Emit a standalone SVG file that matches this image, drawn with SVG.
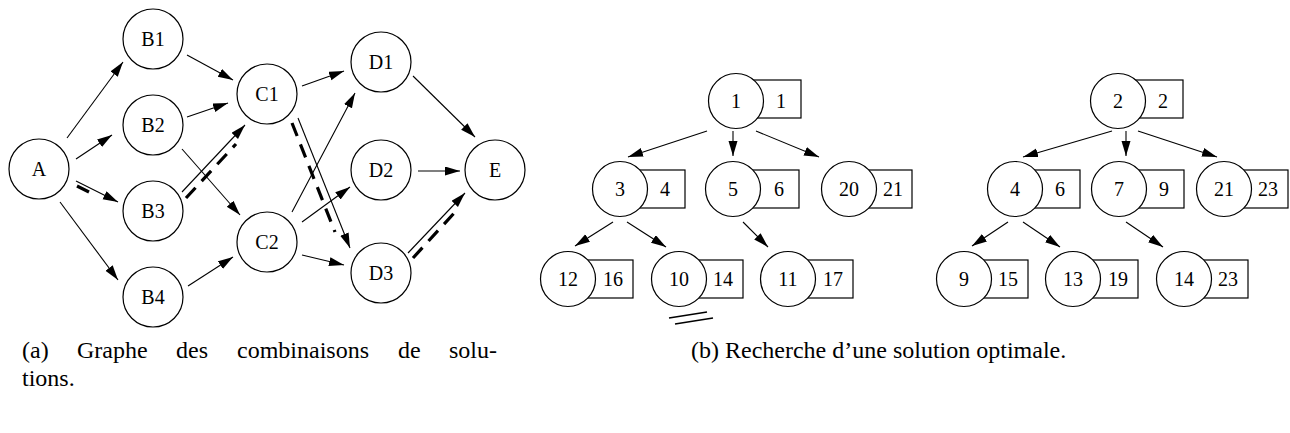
<svg xmlns="http://www.w3.org/2000/svg" width="1290" height="433" viewBox="0 0 1290 433">
<style>
  .n circle { fill: #fff; stroke: #000; stroke-width: 1.2; }
  .n rect { fill: #fff; stroke: #000; stroke-width: 1.2; }
  text { font-family: "Liberation Serif", "Times New Roman", serif; fill: #000; }
  .lbl { font-size: 20px; text-anchor: middle; }
  .cap { font-size: 24px; }
  .e { stroke: #000; stroke-width: 1.1; fill: none; marker-end: url(#ah); }
  .th { stroke: #000; stroke-width: 3.2; fill: none; stroke-dasharray: 14 9; }
  .pl { stroke: #000; stroke-width: 1.5; fill: none; }
</style>
<defs>
  <marker id="ah" markerUnits="userSpaceOnUse" markerWidth="16" markerHeight="10" refX="15" refY="4.5" orient="auto">
    <path d="M0,0 L15,4.5 L0,9 z" fill="#000"/>
  </marker>
</defs>
<rect width="1290" height="433" fill="#fff"/>

<g id="connectors">
  <!-- left graph -->
  <line class="e" x1="67" y1="138" x2="123" y2="62"/>
  <line class="e" x1="76" y1="159" x2="112" y2="135"/>
  <line class="e" x1="76" y1="181" x2="118" y2="202"/>
  <line class="e" x1="60" y1="202" x2="118" y2="280"/>
  <line class="e" x1="187" y1="55" x2="233" y2="80"/>
  <line class="e" x1="187" y1="117" x2="228" y2="103"/>
  <line class="e" x1="182" y1="149" x2="240" y2="215"/>
  <line class="e" x1="182" y1="192" x2="245" y2="125"/>
  <line class="e" x1="188" y1="286" x2="233" y2="257"/>
  <line class="e" x1="302" y1="86" x2="344" y2="71"/>
  <line class="e" x1="292" y1="212" x2="355" y2="93"/>
  <line class="e" x1="298" y1="118" x2="350" y2="248"/>
  <line class="e" x1="302" y1="222" x2="350" y2="187"/>
  <line class="e" x1="302" y1="255" x2="344" y2="265"/>
  <line class="e" x1="413" y1="76" x2="475" y2="137"/>
  <line class="e" x1="418" y1="171" x2="460" y2="171"/>
  <line class="e" x1="408" y1="253" x2="465" y2="193"/>
  <!-- thick dashed path -->
  <line class="th" x1="77" y1="186" x2="89" y2="192"/>
  <line class="th" x1="186" y1="198" x2="236" y2="144"/>
  <line class="th" x1="292" y1="123" x2="335" y2="232"/>
  <line class="th" x1="413" y1="258" x2="456" y2="211"/>
  <!-- tree 1 -->
  <line class="e" x1="707" y1="131" x2="628" y2="157"/>
  <line class="e" x1="733" y1="131" x2="733" y2="156"/>
  <line class="e" x1="756" y1="131" x2="819" y2="157"/>
  <line class="e" x1="613" y1="222" x2="575" y2="246"/>
  <line class="e" x1="627" y1="222" x2="666" y2="247"/>
  <line class="e" x1="743" y1="222" x2="768" y2="247"/>
  <!-- tree 2 -->
  <line class="e" x1="1112" y1="131" x2="1023" y2="157"/>
  <line class="e" x1="1126" y1="131" x2="1126" y2="156"/>
  <line class="e" x1="1138" y1="131" x2="1217" y2="157"/>
  <line class="e" x1="1008" y1="222" x2="972" y2="246"/>
  <line class="e" x1="1023" y1="222" x2="1060" y2="247"/>
  <line class="e" x1="1126" y1="222" x2="1163" y2="247"/>
  <!-- cut mark under 10 -->
  <line class="pl" x1="669" y1="318" x2="707" y2="312"/>
  <line class="pl" x1="675" y1="324" x2="713" y2="318"/>
</g>

<!-- left graph nodes -->
<g id="A" class="n"><circle cx="39" cy="169" r="30"/><text class="lbl" x="39" y="176">A</text></g>
<g id="B1" class="n"><circle cx="153" cy="39" r="30"/><text class="lbl" x="153" y="46">B1</text></g>
<g id="B2" class="n"><circle cx="153" cy="125" r="30"/><text class="lbl" x="153" y="132">B2</text></g>
<g id="B3" class="n"><circle cx="153" cy="211" r="30"/><text class="lbl" x="153" y="218">B3</text></g>
<g id="B4" class="n"><circle cx="153" cy="297" r="30"/><text class="lbl" x="153" y="304">B4</text></g>
<g id="C1" class="n"><circle cx="267" cy="94" r="30"/><text class="lbl" x="267" y="101">C1</text></g>
<g id="C2" class="n"><circle cx="267" cy="242" r="30"/><text class="lbl" x="267" y="249">C2</text></g>
<g id="D1" class="n"><circle cx="381" cy="62" r="30"/><text class="lbl" x="381" y="69">D1</text></g>
<g id="D2" class="n"><circle cx="381" cy="170" r="30"/><text class="lbl" x="381" y="177">D2</text></g>
<g id="D3" class="n"><circle cx="381" cy="273" r="30"/><text class="lbl" x="381" y="280">D3</text></g>
<g id="E" class="n"><circle cx="495" cy="170" r="30"/><text class="lbl" x="495" y="177">E</text></g>

<!-- tree 1 -->
<g id="t1" class="n"><rect x="736" y="80" width="65" height="38"/><circle cx="736" cy="101" r="27.5"/><text class="lbl" x="736" y="108">1</text><text class="lbl" x="781" y="108">1</text></g>
<g id="t3" class="n"><rect x="620" y="170" width="65" height="38"/><circle cx="620" cy="189" r="27.5"/><text class="lbl" x="620" y="196">3</text><text class="lbl" x="665" y="196">4</text></g>
<g id="t5" class="n"><rect x="733" y="170" width="66" height="38"/><circle cx="733" cy="189" r="27.5"/><text class="lbl" x="733" y="196">5</text><text class="lbl" x="779" y="196">6</text></g>
<g id="t20" class="n"><rect x="849" y="170" width="63" height="38"/><circle cx="849" cy="189" r="27.5"/><text class="lbl" x="849" y="196">20</text><text class="lbl" x="893" y="196">21</text></g>
<g id="t12" class="n"><rect x="568" y="260" width="65" height="38"/><circle cx="568" cy="279" r="27.5"/><text class="lbl" x="568" y="286">12</text><text class="lbl" x="613" y="286">16</text></g>
<g id="t10" class="n"><rect x="679" y="260" width="64" height="38"/><circle cx="679" cy="279" r="27.5"/><text class="lbl" x="679" y="286">10</text><text class="lbl" x="723" y="286">14</text></g>
<g id="t11" class="n"><rect x="788" y="260" width="65" height="38"/><circle cx="788" cy="279" r="27.5"/><text class="lbl" x="788" y="286">11</text><text class="lbl" x="833" y="286">17</text></g>

<!-- tree 2 -->
<g id="u2" class="n"><rect x="1118" y="80" width="65" height="38"/><circle cx="1118" cy="101" r="27.5"/><text class="lbl" x="1118" y="108">2</text><text class="lbl" x="1163" y="108">2</text></g>
<g id="u4" class="n"><rect x="1015" y="170" width="65" height="38"/><circle cx="1015" cy="189" r="27.5"/><text class="lbl" x="1015" y="196">4</text><text class="lbl" x="1060" y="196">6</text></g>
<g id="u7" class="n"><rect x="1119" y="170" width="65" height="38"/><circle cx="1119" cy="189" r="27.5"/><text class="lbl" x="1119" y="196">7</text><text class="lbl" x="1164" y="196">9</text></g>
<g id="u21" class="n"><rect x="1224" y="170" width="64" height="38"/><circle cx="1224" cy="189" r="27.5"/><text class="lbl" x="1224" y="196">21</text><text class="lbl" x="1268" y="196">23</text></g>
<g id="u9" class="n"><rect x="964" y="260" width="64" height="38"/><circle cx="964" cy="279" r="27.5"/><text class="lbl" x="964" y="286">9</text><text class="lbl" x="1008" y="286">15</text></g>
<g id="u13" class="n"><rect x="1073" y="260" width="65" height="38"/><circle cx="1073" cy="279" r="27.5"/><text class="lbl" x="1073" y="286">13</text><text class="lbl" x="1118" y="286">19</text></g>
<g id="u14" class="n"><rect x="1184" y="260" width="64" height="38"/><circle cx="1184" cy="279" r="27.5"/><text class="lbl" x="1184" y="286">14</text><text class="lbl" x="1228" y="286">23</text></g>

<!-- captions -->
<g id="captions">
  <text class="cap" y="358"><tspan x="22">(a)</tspan><tspan x="77">Graphe</tspan><tspan x="176">des</tspan><tspan x="237">combinaisons</tspan><tspan x="398">de</tspan><tspan x="449">solu-</tspan></text>
  <text class="cap" x="22" y="386">tions.</text>
  <text class="cap" x="691" y="358">(b) Recherche d’une solution optimale.</text>
</g>
</svg>
